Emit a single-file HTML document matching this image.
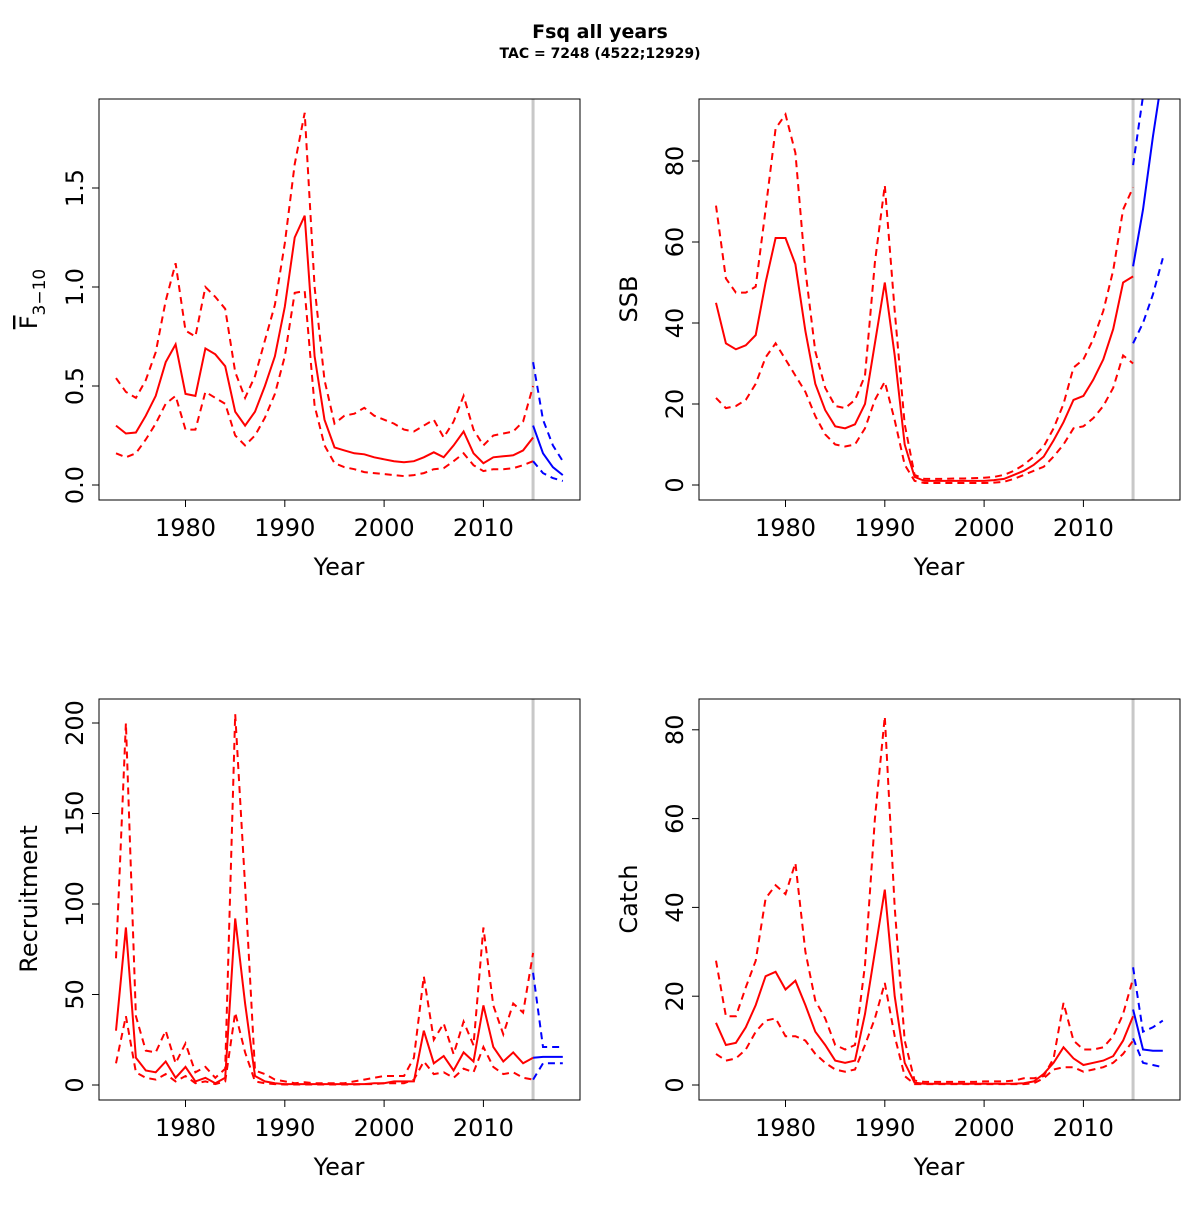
<!DOCTYPE html>
<html><head><meta charset="utf-8"><style>
body{margin:0;background:#fff}
svg text{font-family:"DejaVu Sans","Liberation Sans",sans-serif}
</style></head><body>
<svg id="c" width="1200" height="1200" xmlns="http://www.w3.org/2000/svg">
<text x="600" y="38" text-anchor="middle" font-size="19" font-weight="bold">Fsq all years</text>
<text x="600" y="58" text-anchor="middle" font-size="14" font-weight="bold">TAC = 7248 (4522;12929)</text>
</svg>
<script>
const years=[];for(let y=1973;y<=2015;y++)years.push(y);
const projYears=[2015,2016,2017,2018];
const xTicks=[1980,1990,2000,2010];
// Panel 1: F
const fMean=[.30,.26,.265,.35,.45,.62,.71,.46,.45,.69,.66,.60,.37,.30,.37,.50,.65,.90,1.25,1.36,.65,.33,.19,.175,.16,.155,.14,.13,.12,.115,.12,.14,.165,.14,.20,.27,.16,.11,.14,.145,.15,.175,.24];
const fUp=[.54,.47,.44,.53,.67,.93,1.12,.78,.75,1.00,.95,.89,.57,.44,.55,.73,.91,1.22,1.62,1.88,1.00,.53,.31,.35,.36,.39,.35,.33,.31,.28,.27,.30,.33,.24,.32,.45,.28,.20,.25,.26,.27,.32,.50];
const fLo=[.16,.14,.16,.23,.31,.41,.45,.28,.28,.47,.44,.41,.25,.20,.25,.34,.46,.65,.97,.98,.40,.20,.11,.09,.08,.065,.06,.055,.05,.045,.05,.06,.08,.085,.12,.16,.10,.07,.08,.08,.085,.10,.12];
const fPMean=[.30,.16,.09,.05],fPUp=[.62,.33,.20,.12],fPLo=[.12,.06,.035,.02];
const fTicks=[0,0.5,1,1.5],fTickLabels=["0.0","0.5","1.0","1.5"];
// Panel 2: SSB
const sMean=[45,35,33.5,34.5,37,50,61,61,54.5,38,25,18.5,14.5,14,15,20,35,50,32,10,2,1,1,1,1,1,1,1,1.2,1.5,2.5,3.5,5,7,11,15.5,21,22,26,31,38.5,50,51.5];
const sUp=[69,51,47.5,47.5,49,68,88,91.5,82,53,33,24,19.5,19,21,27,55,74,43,15,2.5,1.5,1.5,1.5,1.6,1.6,1.7,1.8,2,2.5,3.5,5,7,9.5,14,20,29,31,36,43,53,68,73.5];
const sLo=[21.5,19,19.5,21,25,31.5,35,31,27,23,17,12.5,10,9.5,10,14,21,25.5,16,5,1,.5,.5,.5,.5,.5,.5,.5,.6,.8,1.5,2.5,3.5,4.5,7,10,14,14.5,16.5,19.5,24,32,30];
const sPMean=[54,68,86,102],sPUp=[79,96,120,150],sPLo=[35,40,47,56];
const sTicks=[0,20,40,60,80],sTickLabels=["0","20","40","60","80"];
// Panel 3: Recruitment
const rMean=[30,87,15,8,7,13,4,10,2,4,1,4,92,45,5,2,1,.5,.5,.5,.5,.5,.5,.5,.5,.5,1,1,2,2,2,30,12,16,8,18,13,44,21,13,18,12,15];
const rUp=[70,200,38,19,18,30,12,23,7,10,4,9,205,110,8,6,3,2,1,1.5,1,1,1,1,2,3,4,5,5,5,15,60,25,34,17,35,22,87,44,28,45,40,73];
const rLo=[12,38,7,4,3,6,2,5,1,2,.5,2,40,18,2,1,.5,.3,.3,.3,.3,.3,.3,.3,.3,.5,.5,1,1,1,3,13,6,7,4,9,7,21,10,6,7,4,3];
const rPMean=[15,15.5,15.5,15.5],rPUp=[62,21,21,21],rPLo=[3,12,12,12];
const rTicks=[0,50,100,150,200],rTickLabels=["0","50","100","150","200"];
// Panel 4: Catch
const cMean=[14,9,9.5,13,18,24.5,25.5,21.5,23.5,18,12,9,5.5,5,5.5,16,30,44,20,5,.5,.3,.3,.3,.3,.3,.3,.3,.3,.3,.3,.4,.8,2.5,5,8.5,6,4.5,5,5.5,6.5,10,15.5];
const cUp=[28,15.5,15.5,22,28,42,45,43,50,30,19,15,9,8,9,27,60,83,40,10,1,.7,.7,.7,.7,.7,.7,.8,.8,.8,1,1.5,1.5,2,6,18.5,10,8,8,8.5,11,16,24];
const cLo=[7,5.5,6,8,12,14.5,15,11,11,10,7,5,3.5,3,3.5,9,15,23,11,2,.2,.2,.2,.2,.2,.2,.2,.2,.2,.2,.2,.2,.4,1.5,3.5,4,4,3,3.5,4,5,7,10];
const cPMean=[17,8,7.7,7.7],cPUp=[26.5,12,13,14.5],cPLo=[10.5,5,4.5,4];
const cTicks=[0,20,40,60,80],cTickLabels=["0","20","40","60","80"];

const NS="http://www.w3.org/2000/svg";
const svg=document.getElementById('c');
function mk(tag,attrs,parent){const e=document.createElementNS(NS,tag);for(const k in attrs)e.setAttribute(k,attrs[k]);(parent||svg).appendChild(e);return e;}

function panel(id,L,T,y0,pxPerUnit,ticks,tickLabels,series,ylab){
  const R=L+481,B=T+401;
  const X=y=>L+17+(y-1973)*9.93;
  const Y=v=>y0-v*pxPerUnit;
  const g=mk('g',{});
  
  
  const cp=mk('clipPath',{id:'cp'+id},g);mk('rect',{x:L,y:T,width:481,height:401},cp);
  const vl=mk('line',{x1:X(2015),x2:X(2015),y1:T,y2:B,stroke:'#c8c8c8','stroke-width':3},g);
  
  
  const pg=mk('g',{'clip-path':'url(#cp'+id+')'},g);
  series.forEach(s=>{
    const d=s.vals.map((v,i)=>(i?'L':'M')+X(s.xs[i]).toFixed(1)+','+Y(v).toFixed(1)).join('');
    const p=mk('path',{d:d,fill:'none',stroke:s.col,'stroke-width':2,'stroke-dasharray':s.dash?'7,5':'none'},pg);
    
    
  });
  const box=mk('rect',{x:L,y:T,width:481,height:401,fill:'none',stroke:'#000','stroke-width':1},g);
  
  
  const xa=mk('g',{},g);
  
  
  mk('line',{x1:X(xTicks[0]),x2:X(xTicks[xTicks.length-1]),y1:B,y2:B,stroke:'#000'},xa);
  xTicks.forEach(t=>{mk('line',{x1:X(t),x2:X(t),y1:B,y2:B+7,stroke:'#000'},xa);
    const tx=mk('text',{x:X(t),y:B+36,'text-anchor':'middle','font-size':24},xa);tx.textContent=t;});
  const xt=mk('text',{x:L+240,y:B+75,'text-anchor':'middle','font-size':24},g);xt.textContent='Year';
  
  
  const ya=mk('g',{},g);
  
  
  mk('line',{x1:L,x2:L,y1:Y(ticks[0]),y2:Y(ticks[ticks.length-1]),stroke:'#000'},ya);
  ticks.forEach((t,i)=>{mk('line',{x1:L-7,x2:L,y1:Y(t),y2:Y(t),stroke:'#000'},ya);
    const tx=mk('text',{x:L-16,y:Y(t),'text-anchor':'middle','font-size':24,transform:`rotate(-90 ${L-16} ${Y(t)})`},ya);tx.textContent=tickLabels[i];});
  const yt=mk('text',{x:L-62,y:T+200,'text-anchor':'middle','font-size':24,transform:`rotate(-90 ${L-62} ${T+200})`},g);
  
  
  if(ylab==='F'){yt.innerHTML='<tspan text-decoration="overline">F</tspan><tspan font-size="17" dy="8">3−10</tspan>';}
  else yt.textContent=ylab;
}
function ser(m,u,l,pm,pu,pl){return[
 {name:'estimate-line',xs:years,vals:m,col:'#ff0000',dash:false},
 {name:'upper-ci-line',xs:years,vals:u,col:'#ff0000',dash:true},
 {name:'lower-ci-line',xs:years,vals:l,col:'#ff0000',dash:true},
 {name:'projection-line',xs:projYears,vals:pm,col:'#0000ff',dash:false},
 {name:'projection-upper-line',xs:projYears,vals:pu,col:'#0000ff',dash:true},
 {name:'projection-lower-line',xs:projYears,vals:pl,col:'#0000ff',dash:true}];}
panel('f',99,99,485,198,fTicks,fTickLabels,ser(fMean,fUp,fLo,fPMean,fPUp,fPLo),'F');
panel('ssb',699,99,485,4.05,sTicks,sTickLabels,ser(sMean,sUp,sLo,sPMean,sPUp,sPLo),'SSB');
panel('recruitment',99,699,1085,1.81,rTicks,rTickLabels,ser(rMean,rUp,rLo,rPMean,rPUp,rPLo),'Recruitment');
panel('catch',699,699,1085,4.44,cTicks,cTickLabels,ser(cMean,cUp,cLo,cPMean,cPUp,cPLo),'Catch');
</script>
</body></html>
